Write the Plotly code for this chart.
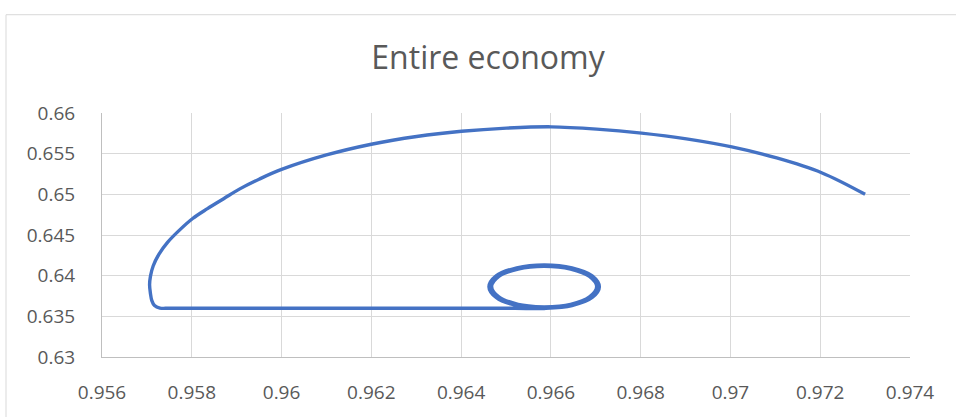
import plotly.graph_objects as go

# Path of the economy-wide pair (x, y), in order: upper arc, left turn,
# flat stretch at 0.636, then the loops around the rest point
path_x = [
    0.97300, 0.97203, 0.97103, 0.97003, 0.96902, 0.96802, 0.96702, 0.96601,
    0.96501, 0.96401, 0.96301, 0.96200, 0.96100, 0.96000, 0.95951, 0.95907,
    0.95871, 0.95835, 0.95802, 0.95772, 0.95746, 0.95727, 0.95714, 0.95708,
    0.95706, 0.95708, 0.95711, 0.95717, 0.95729, 0.95751,
    0.95900, 0.96150, 0.96400, 0.96520,
    0.96585, 0.96647, 0.96692, 0.96708, 0.96692, 0.96647, 0.96585, 0.96524,
    0.96478, 0.96462, 0.96478, 0.96524,
    0.96585, 0.96644, 0.96686, 0.96702, 0.96686, 0.96644, 0.96585, 0.96527,
    0.96484, 0.96468, 0.96484, 0.96527, 0.96585,
]
path_y = [
    0.65000, 0.65266, 0.65447, 0.65583, 0.65682, 0.65753, 0.65802, 0.65830,
    0.65814, 0.65775, 0.65711, 0.65616, 0.65484, 0.65306, 0.65189, 0.65067,
    0.64946, 0.64824, 0.64703, 0.64557, 0.64410, 0.64266, 0.64119, 0.63995,
    0.63888, 0.63778, 0.63693, 0.63632, 0.63602, 0.63600,
    0.63600, 0.63600, 0.63600, 0.63599,
    0.63597, 0.63633, 0.63731, 0.63865, 0.63999, 0.64097, 0.64133, 0.64097,
    0.63999, 0.63865, 0.63731, 0.63633,
    0.63615, 0.63648, 0.63740, 0.63865, 0.63990, 0.64082, 0.64115, 0.64082,
    0.63990, 0.63865, 0.63740, 0.63648, 0.63615,
]

x_ticks = [0.956, 0.958, 0.960, 0.962, 0.964, 0.966, 0.968, 0.970, 0.972, 0.974]
x_tick_text = ["0.956", "0.958", "0.96", "0.962", "0.964", "0.966", "0.968", "0.97", "0.972", "0.974"]
y_ticks = [0.630, 0.635, 0.640, 0.645, 0.650, 0.655, 0.660]
y_tick_text = ["0.63", "0.635", "0.64", "0.645", "0.65", "0.655", "0.66"]

W, H = 956, 417
L, R, T, B = 102, 46, 113, 57
pw, ph = W - L - R, H - T - B

FONT = "Open Sans"
TXT = "#595959"

fig = go.Figure()
fig.add_trace(go.Scatter(
    x=path_x, y=path_y, mode="lines",
    line=dict(color="#4472C4", width=3.4, shape="spline", smoothing=1.0),
    hoverinfo="skip", showlegend=False,
))

# light chart-area frame
fig.add_shape(
    type="rect", xref="paper", yref="paper",
    x0=(6 - L) / pw, x1=(W + 20 - L) / pw,
    y0=-(B + 20) / ph, y1=1 + (T - 13.5) / ph,
    line=dict(color="#d9d9d9", width=1), fillcolor="rgba(0,0,0,0)", layer="below",
)

fig.update_layout(
    width=W, height=H,
    margin=dict(l=L, r=R, t=T, b=B),
    paper_bgcolor="white", plot_bgcolor="white",
    title=dict(
        text="Entire economy", font=dict(family=FONT, size=32, color=TXT),
        x=488 / W, xref="container", xanchor="center",
        y=1 - 58 / H, yref="container", yanchor="middle",
    ),
    xaxis=dict(
        range=[0.956, 0.974], tickvals=x_ticks, ticktext=x_tick_text,
        showgrid=True, gridcolor="#d9d9d9", gridwidth=1,
        showline=True, linecolor="#bfbfbf", linewidth=1,
        zeroline=False, ticks="", ticklabelstandoff=18,
        tickfont=dict(family=FONT, size=19, color=TXT),
    ),
    yaxis=dict(
        range=[0.630, 0.660], tickvals=y_ticks, ticktext=y_tick_text,
        showgrid=True, gridcolor="#d9d9d9", gridwidth=1,
        showline=True, linecolor="#bfbfbf", linewidth=1,
        zeroline=False, ticks="", ticklabelstandoff=22,
        tickfont=dict(family=FONT, size=19, color=TXT),
    ),
)

fig.write_html("out.html")
